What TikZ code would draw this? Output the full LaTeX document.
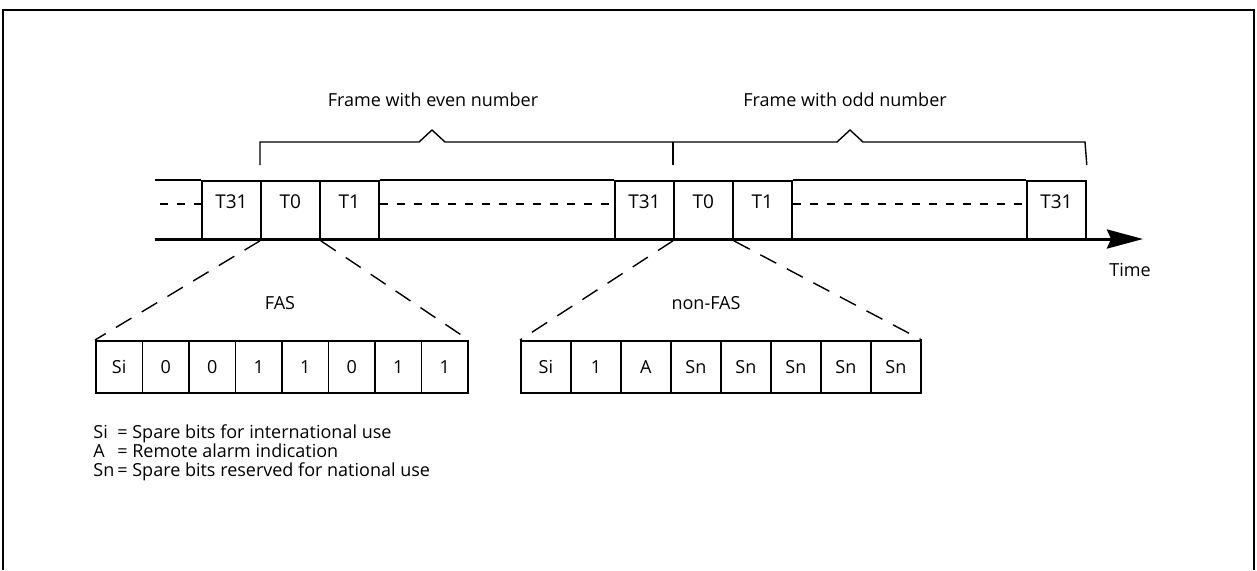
\documentclass[tikz,border=0pt]{standalone}
\usepackage{fontspec}
\setmainfont{Open Sans}
\usetikzlibrary{arrows.meta}
\begin{document}
\begin{tikzpicture}[x=0.5pt,y=-0.5pt,
  every node/.style={font=\fontsize{9}{10.5}\selectfont},
  cell/.style={draw, line width=0.9pt, minimum width=29.5pt, minimum height=29.5pt, inner sep=0pt, anchor=north west},
  celltext/.style={yshift=4.5pt, font=\fontsize{9.5}{11}\selectfont},
  bit/.style={draw, line width=0.9pt, minimum width=#1, minimum height=26pt, inner sep=0pt, anchor=north west, font=\fontsize{9}{10.5}\selectfont},
  fan/.style={line width=0.7pt, dash pattern=on 9pt off 6pt},
  dots/.style={line width=0.8pt, dash pattern=on 4pt off 4.5pt},
  brace/.style={line width=0.7pt},
  frameline/.style={line width=1pt},
  key/.style={anchor=base west, inner sep=0pt}
]
\useasboundingbox (0,0) rectangle (1257,570);
% outer frame (open at bottom)
\draw[frameline] (3,570) -- (3,10) -- (1254,10) -- (1254,570);

% time slots
\node[cell, label={[celltext]center:T31}] (c1) at (201,180) {};
\node[cell, label={[celltext]center:T0}]  (c2) at (260,180) {};
\node[cell, label={[celltext]center:T1}]  (c3) at (319,180) {};
\node[cell, label={[celltext]center:T31}] (c4) at (614,180) {};
\node[cell, label={[celltext]center:T0}]  (c5) at (673,180) {};
\node[cell, label={[celltext]center:T1}]  (c6) at (732,180) {};
\node[cell, label={[celltext]center:T31}] (c7) at (1026,180) {};

\coordinate (stripL) at (155,180);
\coordinate (axisL) at (155,239);
\coordinate (axisR) at (1143,239);
\draw[line width=0.9pt] (stripL) -- (c1.north west);
\draw[line width=0.9pt] (c3.north east) -- (c4.north west);
\draw[line width=0.9pt] (c6.north east) -- (c7.north west);
\draw[line width=1.5pt, -{Stealth[length=18pt,width=9.5pt,inset=2pt]}] (axisL) -- (axisR);

% dotted continuations
\coordinate (dl1) at (160,204);
\draw[dots] (dl1) -- (c1.west |- dl1);
\draw[dots] (c3.east |- dl1) -- (c4.west |- dl1);
\draw[dots] (c6.east |- dl1) -- (c7.west |- dl1);

\node (time) at (1130,270) {Time};

% frame braces
\coordinate (bA) at (260,142);
\coordinate (bB) at (673,142);
\coordinate (bC) at (1085,142);
\draw[brace] (c2.north west |- 0,165) -- (bA) -- (419,142) -- (432,130) -- (445,142) -- (bB) -- (837,142) -- (850,130) -- (863,142) -- (bC) -- (c7.north east |- 0,165);
\draw[brace] (bB) -- (c5.north west |- 0,165);
\node (even) at (433,100) {Frame with even number};
\node (odd) at (845,100) {Frame with odd number};

% FAS word
\foreach \t [count=\i from 0] in {Si,0,0,1,1,0,1,1}{
  \node[bit=23.25pt] (f\i) at ({95+46.5*\i},340) {\t};
}
\node (fas) at (280,303) {FAS};
\draw[fan] (c2.south west) -- (f0.north west);
\draw[fan] (c2.south east) -- (f7.north east);

% non-FAS word
\foreach \t [count=\i from 0] in {Si,1,A,Sn,Sn,Sn,Sn,Sn}{
  \node[bit=25pt] (n\i) at ({520+50*\i},340) {\t};
}
\node (nfas) at (706,303) {non-FAS};
\draw[fan] (c5.south west) -- (n0.north west);
\draw[fan] (c5.south east) -- (n7.north east);

% legend
\node[key] (k1) at (93,438) {Si};
\node[key] (k2) at (93,457) {A};
\node[key] (k3) at (93,476) {Sn};
\node[key] (d1) at (117,438) {= Spare bits for international use};
\node[key] (d2) at (117,457) {= Remote alarm indication};
\node[key] (d3) at (117,476) {= Spare bits reserved for national use};
\end{tikzpicture}
\end{document}
